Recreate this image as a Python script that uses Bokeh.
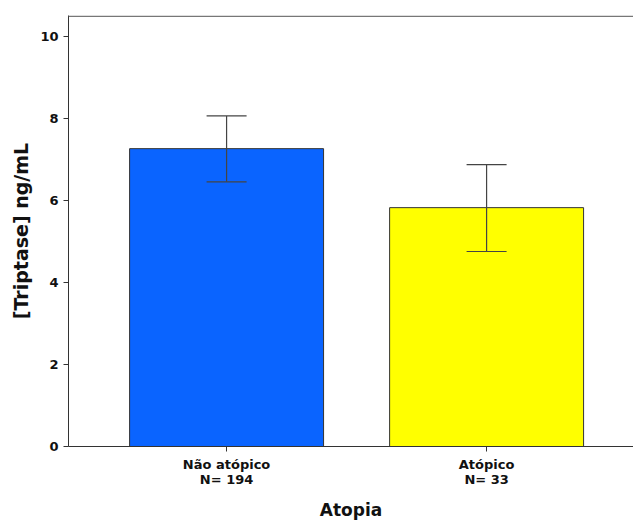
from bokeh.plotting import figure
from bokeh.models import ColumnDataSource, Whisker, Span, Range1d, FixedTicker
from bokeh.embed import file_html
from bokeh.resources import INLINE

categories = ["Não atópico", "Atópico"]
counts = ["N= 194", "N= 33"]
means = [7.27, 5.83]
upper = [8.07, 6.88]
lower = [6.46, 4.76]
colors = ["#0A64FF", "#FFFF00"]

xs = [1, 2]
src = ColumnDataSource(dict(x=xs, top=means, upper=upper, lower=lower, color=colors))

p = figure(width=633, height=522, output_backend="svg", toolbar_location=None,
           x_range=Range1d(0.392, 2.565), y_range=Range1d(0, 10.52),
           min_border_left=68, min_border_right=0, min_border_top=15, min_border_bottom=76)
p.outline_line_color = None
p.grid.visible = False
p.background_fill_color = "white"
p.border_fill_color = "white"

p.vbar(x="x", top="top", width=0.746, bottom=0, fill_color="color",
       line_color="#333333", line_width=1, source=src)

w = Whisker(source=src, base="x", upper="upper", lower="lower",
            line_color="#444444", line_width=1.2, level="overlay")
w.upper_head.size = 40
w.lower_head.size = 40
w.upper_head.line_color = "#444444"
w.lower_head.line_color = "#444444"
w.upper_head.line_width = 1.2
w.lower_head.line_width = 1.2
p.add_layout(w)

p.add_layout(Span(location=10.5, dimension="width", line_color="#777777", line_width=1.5))

font = "DejaVu Sans"
p.xaxis.ticker = FixedTicker(ticks=xs)
p.xaxis.major_label_overrides = {x: f"{c}\n{n}" for x, c, n in zip(xs, categories, counts)}
p.xaxis.major_label_text_font = font
p.xaxis.major_label_text_font_style = "bold"
p.xaxis.major_label_text_font_size = "13px"
p.xaxis.major_label_text_color = "#111111"
p.xaxis.major_label_text_line_height = 1.0
p.xaxis.axis_label = "Atopia"
p.xaxis.axis_label_text_font = font
p.xaxis.axis_label_text_font_style = "bold"
p.xaxis.axis_label_text_font_size = "17px"
p.xaxis.axis_label_standoff = 10
p.xaxis.minor_tick_line_color = None

p.yaxis.ticker = FixedTicker(ticks=[0, 2, 4, 6, 8, 10])
p.yaxis.major_label_text_font = font
p.yaxis.major_label_text_font_style = "bold"
p.yaxis.major_label_text_font_size = "13px"
p.yaxis.major_label_text_color = "#111111"
p.yaxis.axis_label = "[Triptase] ng/mL"
p.yaxis.axis_label_text_font = font
p.yaxis.axis_label_text_font_style = "bold"
p.yaxis.axis_label_text_font_size = "19px"
p.yaxis.axis_label_standoff = 5
p.yaxis.minor_tick_line_color = None

for ax in (p.xaxis, p.yaxis):
    ax.axis_line_color = "#333333"
    ax.major_tick_line_color = "#333333"
    ax.major_tick_out = 5
    ax.major_tick_in = 0
    ax.axis_label_text_color = "#111111"

open("out.html", "w").write(file_html(p, INLINE))
